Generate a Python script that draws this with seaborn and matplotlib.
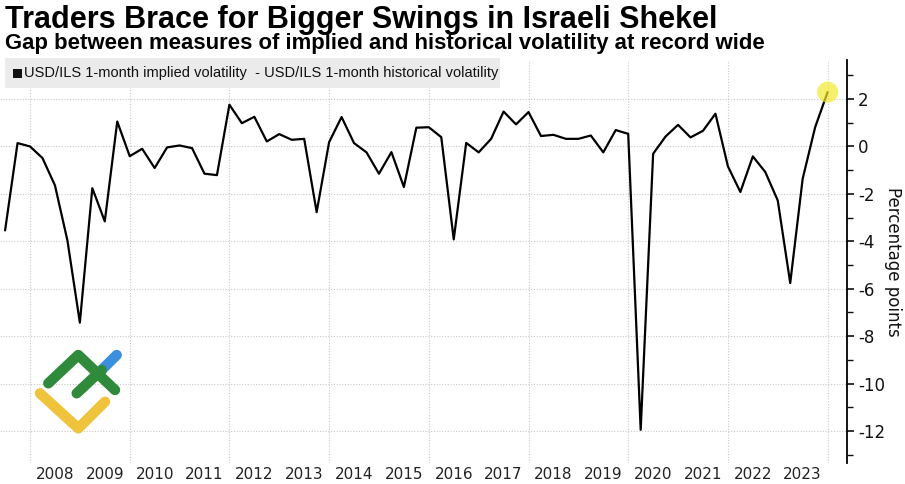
import numpy as np
import pandas as pd
import matplotlib
matplotlib.use("Agg")
import matplotlib.pyplot as plt
import seaborn as sns
from matplotlib.lines import Line2D
from matplotlib.patches import Rectangle
from matplotlib import font_manager
from matplotlib.ticker import FixedLocator, NullFormatter

# ---------------- data ----------------
first_quarter = "2007-07-01"
gap_values = [-3.54, 0.14, 0.0, -0.49, -1.64, -3.96, -7.43, -1.76, -3.16, 1.05,
              -0.41, -0.10, -0.91, -0.04, 0.04, -0.07, -1.15, -1.21, 1.76, 0.98,
              1.25, 0.21, 0.52, 0.28, 0.32, -2.77, 0.18, 1.24, 0.14, -0.25,
              -1.15, -0.24, -1.71, 0.79, 0.81, 0.39, -3.92, 0.15, -0.25, 0.32,
              1.47, 0.93, 1.45, 0.44, 0.49, 0.32, 0.32, 0.46, -0.25, 0.69,
              0.53, -11.95, -0.31, 0.42, 0.91, 0.38, 0.66, 1.38, -0.84, -1.92,
              -0.42, -1.08, -2.28, -5.76, -1.36, 0.81, 2.29]
year_labels = [str(y) for y in range(2008, 2024)]
y_ticks = [2, 0, -2, -4, -6, -8, -10, -12]

title = "Traders Brace for Bigger Swings in Israeli Shekel"
subtitle = "Gap between measures of implied and historical volatility at record wide"
legend_text = "USD/ILS 1-month implied volatility  - USD/ILS 1-month historical volatility"
y_label = "Percentage points"

dates = pd.date_range(first_quarter, periods=len(gap_values), freq="QS")
df = pd.DataFrame({"t": dates.year + (dates.month - 1) / 12.0, "gap": gap_values})

# ---------------- fonts ----------------
def has_font(name):
    try:
        font_manager.findfont(font_manager.FontProperties(family=name), fallback_to_default=False)
        return True
    except Exception:
        return False

narrow = "Liberation Sans Narrow" if has_font("Liberation Sans Narrow") else "Liberation Sans"

sns.set_style("white")
plt.rcParams["font.family"] = ["DejaVu Sans"]
plt.rcParams["axes.unicode_minus"] = False

W, H = 905, 484
fig = plt.figure(figsize=(W / 100, H / 100), dpi=100)
ax = fig.add_axes([0, 1 - 463 / H, 847 / W, (463 - 60) / H])

sns.lineplot(data=df, x="t", y="gap", ax=ax, color="black", linewidth=1.6, zorder=3)
ax.scatter(df["t"].iloc[-1:], df["gap"].iloc[-1:], s=230, color="#f2ea2e",
           alpha=0.7, edgecolors="none", zorder=4)

ax.set_xlim(2007.398, 2024.389)
ax.set_ylim(-13.35, 3.645)

# x axis: grid at even years, labels centred in each year
ax.xaxis.set_major_locator(FixedLocator(list(range(2008, 2025, 2))))
ax.xaxis.set_major_formatter(NullFormatter())
ax.xaxis.set_minor_locator(FixedLocator([int(y) + 0.5 for y in year_labels]))
ax.set_xticklabels(year_labels, minor=True)
ax.tick_params(axis="x", which="both", length=0, labelsize=11, pad=3, colors="#222222")

# y axis on the right
ax.yaxis.tick_right()
ax.yaxis.set_label_position("right")
ax.set_yticks(y_ticks)
ax.set_yticklabels([str(v) for v in y_ticks])
ax.yaxis.set_minor_locator(FixedLocator(list(range(-13, 4, 2))))
ax.tick_params(axis="y", which="major", length=5, width=1.2, labelsize=12, pad=3, colors="#111111")
ax.tick_params(axis="y", which="minor", length=4, width=1.0, colors="#111111")
ax.set_xlabel("")
ax.set_ylabel("")

for s in ["top", "left", "bottom"]:
    ax.spines[s].set_visible(False)
ax.spines["right"].set_visible(True)
ax.spines["right"].set_color("black")
ax.spines["right"].set_linewidth(1.3)

ax.grid(True, which="major", axis="both", linestyle=(0, (1, 1.5)), color="#c8c8c8", linewidth=0.8)
ax.set_axisbelow(True)

fig.text(893 / W, 1 - 262 / H, y_label, rotation=270, ha="center", va="center",
         fontsize=12, color="#111111")

# ---------------- titles & legend ----------------
t1 = fig.text(5 / W, 1 - 28 / H, title, fontsize=20, fontweight="bold",
              family=[narrow, "DejaVu Sans"], ha="left", va="baseline", color="black")
t2 = fig.text(5 / W, 1 - 49 / H, subtitle, fontsize=15, fontweight="bold",
              family=[narrow, "DejaVu Sans"], ha="left", va="baseline", color="black")
fig.add_artist(Rectangle((5 / W, 1 - 88 / H), 495 / W, 30 / H, transform=fig.transFigure,
                         facecolor="#ebebeb", edgecolor="none", zorder=5))
fig.add_artist(Rectangle((13 / W, 1 - 78 / H), 9 / W, 9 / H, transform=fig.transFigure,
                         facecolor="#111111", edgecolor="none", zorder=6))
t3 = fig.text(24 / W, 1 - 73 / H, legend_text, fontsize=11,
              family=[narrow, "DejaVu Sans"], ha="left", va="center", color="#111111", zorder=6)

def fit(t, width_px):
    fig.canvas.draw()
    r = fig.canvas.get_renderer()
    w = t.get_window_extent(r).width
    t.set_fontsize(t.get_fontsize() * width_px / w)

fit(t1, 712)
fit(t2, 765)
fit(t3, 470)

# ---------------- watermark logo ----------------
def stroke(pts, color, lw=7.5):
    xs = [p[0] / W for p in pts]
    ys = [1 - p[1] / H for p in pts]
    fig.add_artist(Line2D(xs, ys, transform=fig.transFigure, color=color, linewidth=lw,
                          solid_capstyle="round", solid_joinstyle="round", zorder=7))

stroke([(98.3, 373.3), (116.7, 355)], "#3b8fdc")
stroke([(40, 393.3), (78.3, 428.3), (105, 401.7)], "#f0c33c")
stroke([(48.3, 383.3), (78.3, 355), (115, 390)], "#2f8a3b")
stroke([(76.7, 393.3), (101.7, 370)], "#2f8a3b")

fig.savefig("out.png", dpi=100)
